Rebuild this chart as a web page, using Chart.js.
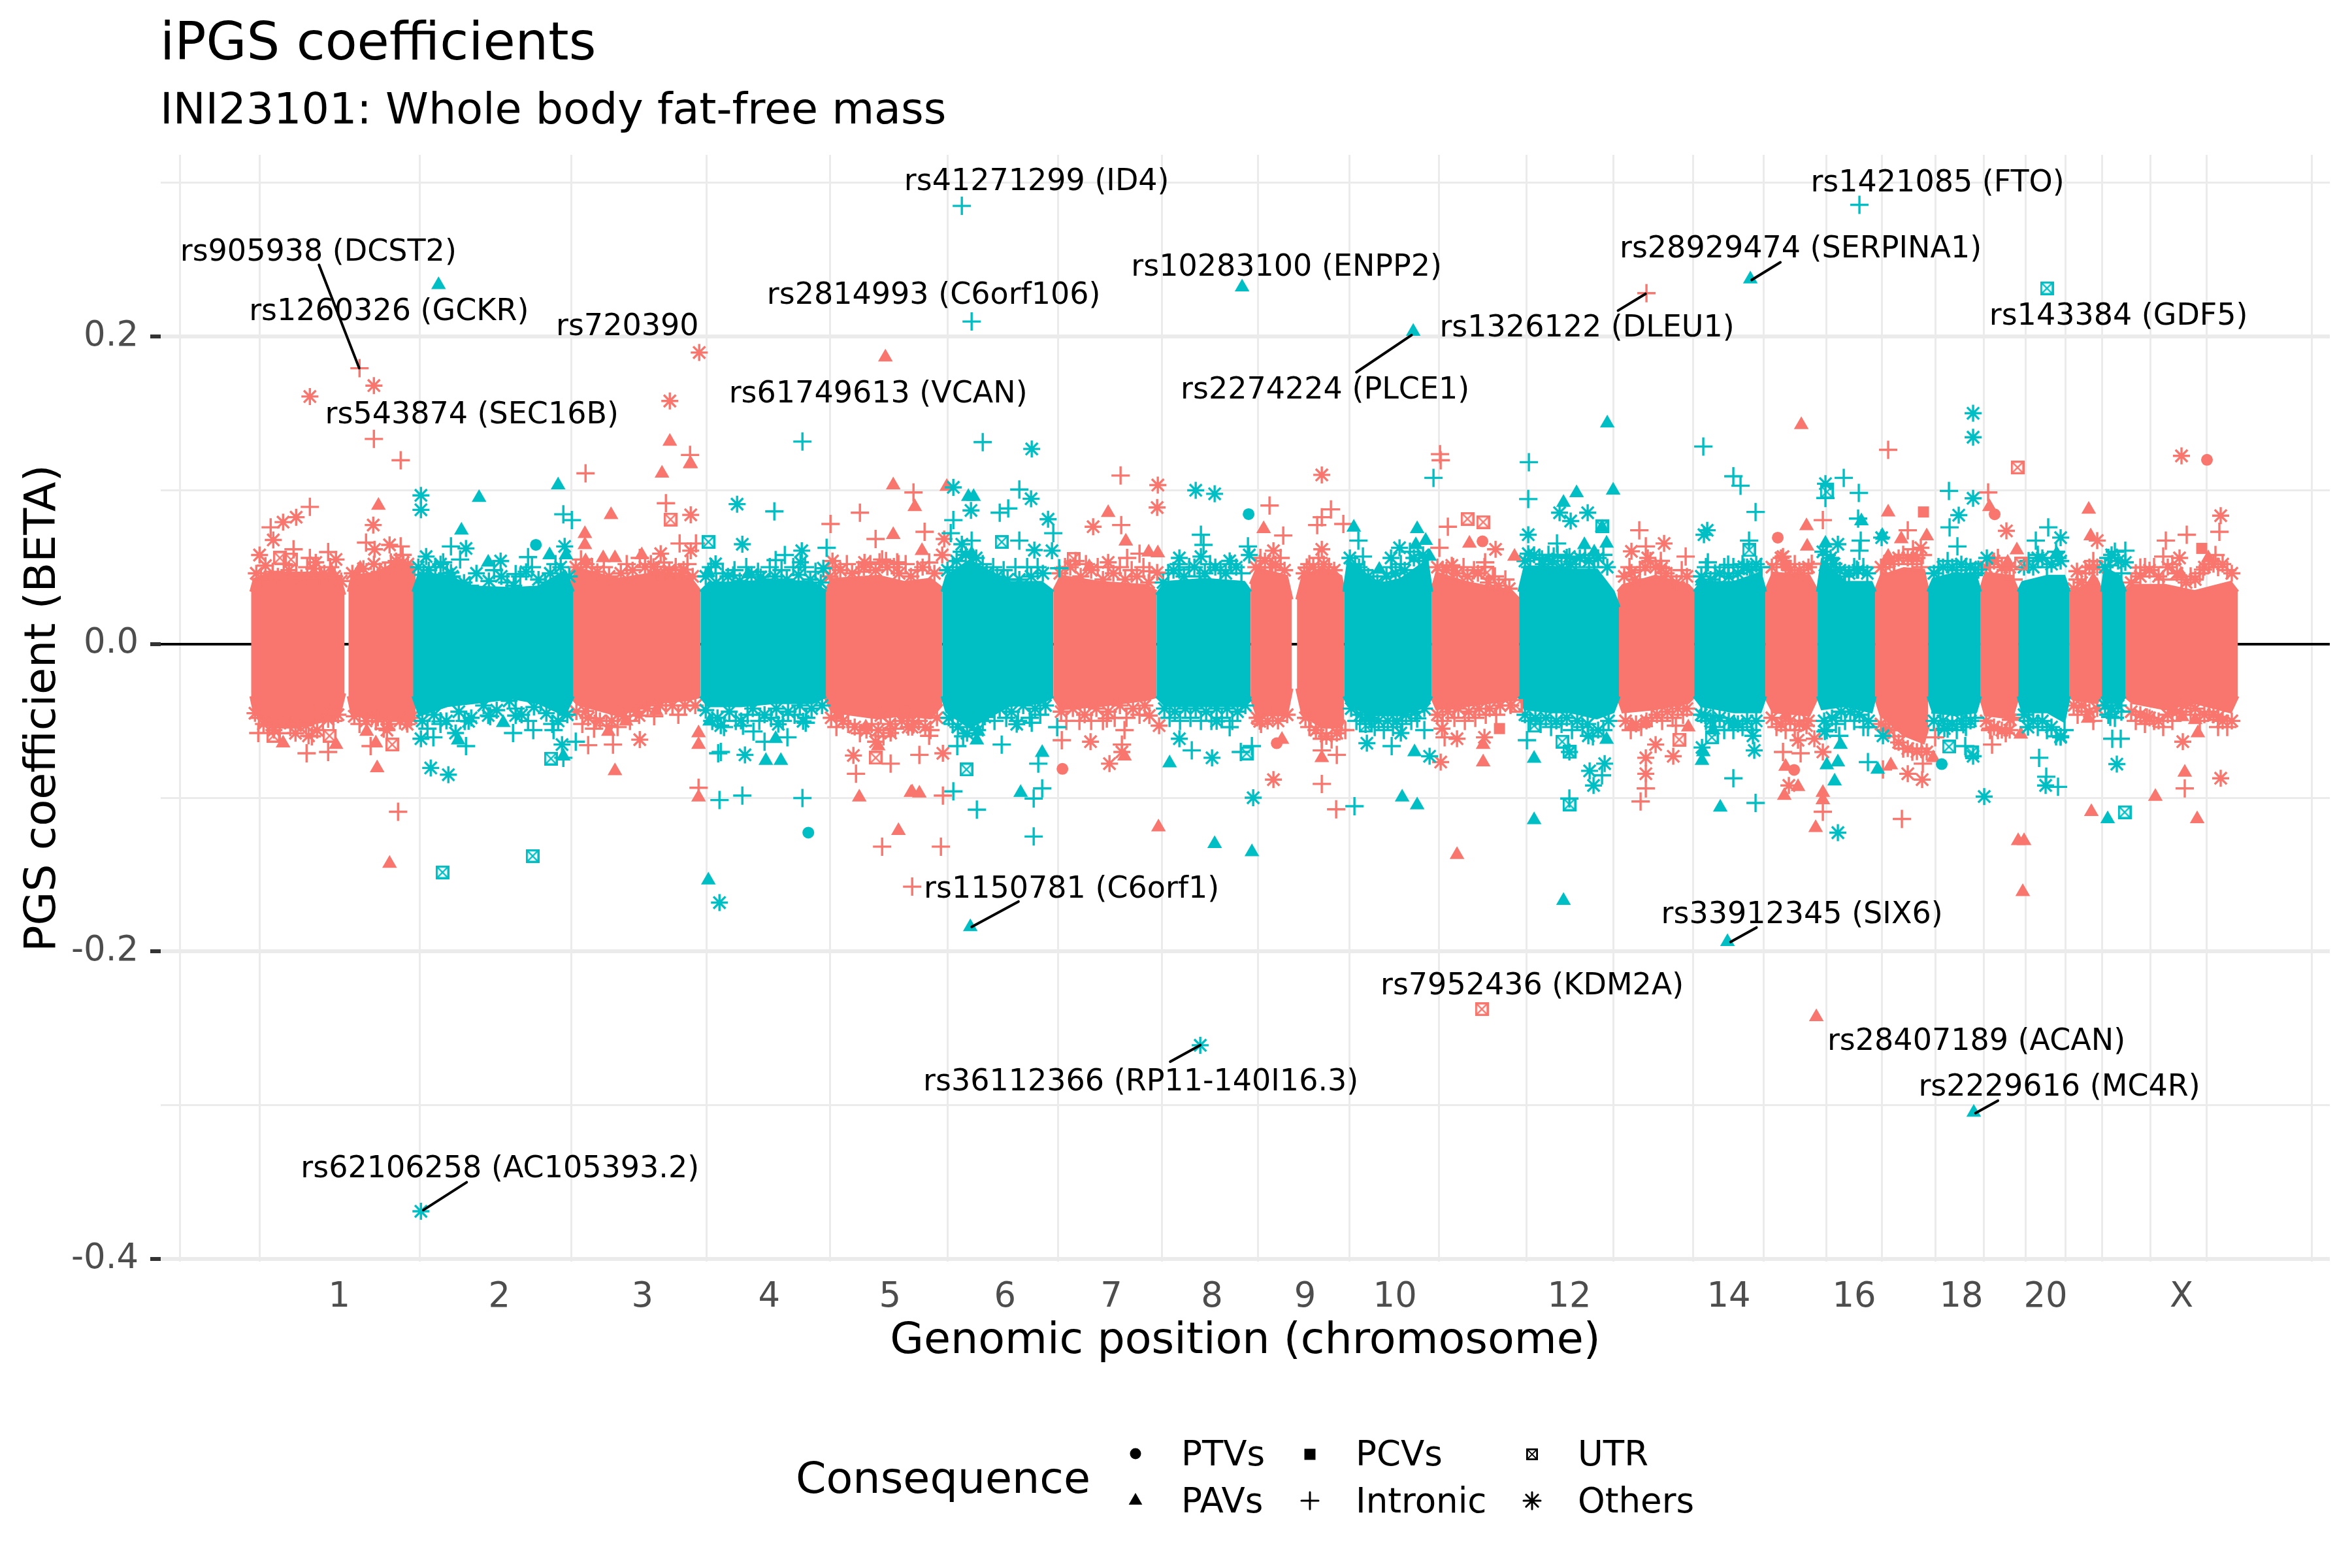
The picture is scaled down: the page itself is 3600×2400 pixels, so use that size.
<!DOCTYPE html>
<html><head><meta charset="utf-8">
<script src="https://cdn.jsdelivr.net/npm/chart.js@4"></script>
<style>html,body{margin:0;padding:0;background:#fff}canvas{display:block}</style>
</head><body><canvas id="c" width="3600" height="2400"></canvas>
<script>
// ---------- data (x = cumulative genomic position, y = BETA) ----------
const chromTicks=[135,380,599,793,978,1154,1317,1471,1613.5,1751,2018,2262,2454,2618,2747,2955];
const chromLabels=['1','2','3','4','5','6','7','8','9','10','12','14','16','18','20','X'];
const chromBounds=[-108.5,13,258,490.5,697,886,1066,1235,1394.5,1541.5,1681.5,1818,1952.5,2085.6,2207,2315,2411,2496.6,2578.5,2652.7,2716,2777.5,2833.4,2907.6,2993,3154.7];
const betaTicks=[0.3,0.2,0.1,0,-0.1,-0.2,-0.3,-0.4];
const betaLabelled=[0.2,0,-0.2,-0.4];

// dense body of each chromosome: position, upper and lower edge of the point cloud
const b01x=[0,5,30,70,110,135,143],b01h=[.034,.042,.046,.046,.046,.044,.032],b01l=[-.034,-.044,-.054,-.054,-.05,-.046,-.032];
const b02x=[149,155,190,230,252],b02h=[.034,.044,.046,.054,.049],b02l=[-.034,-.046,-.048,-.05,-.049];
const b03x=[248,258,300,340,400,440,480,493],b03h=[.034,.046,.044,.037,.036,.037,.047,.034],b03l=[-.034,-.046,-.04,-.038,-.035,-.038,-.046,-.034];
const b04x=[489,500,560,620,670,688],b04h=[.039,.049,.042,.046,.044,.034],b04l=[-.034,-.039,-.046,-.038,-.036,-.034];
const b05x=[688,700,750,800,860,880],b05h=[.034,.039,.04,.041,.04,.034],b05l=[-.034,-.04,-.04,-.038,-.038,-.034];
const b06x=[878,890,960,1000,1040,1058],b06h=[.034,.042,.044,.04,.042,.036],b06l=[-.034,-.044,-.048,-.046,-.048,-.039];
const b07x=[1058,1065,1100,1160,1210,1228],b07h=[.034,.044,.054,.04,.04,.034],b07l=[-.034,-.044,-.054,-.04,-.038,-.034];
const b08x=[1228,1240,1300,1370,1386],b08h=[.034,.044,.04,.038,.034],b08l=[-.034,-.042,-.04,-.036,-.034];
const b09x=[1386,1400,1460,1520,1530],b09h=[.032,.04,.042,.04,.034],b09l=[-.034,-.04,-.04,-.04,-.034];
const b10x=[1530,1540,1585,1593],b10h=[.039,.049,.044,.029],b10l=[-.034,-.046,-.046,-.029];
const b11x=[1601,1610,1640,1668,1673],b11h=[.029,.044,.049,.044,.034],b11l=[-.029,-.046,-.054,-.054,-.049];
const b12x=[1673,1680,1720,1760,1800,1807],b12h=[.034,.054,.038,.042,.054,.034],b12l=[-.034,-.04,-.046,-.046,-.04,-.034];
const b13x=[1807,1815,1860,1930,1941],b13h=[.034,.046,.04,.034,.029],b13l=[-.034,-.042,-.04,-.036,-.034];
const b14x=[1941,1950,1990,2020,2060,2085,2094],b14h=[.034,.05,.05,.048,.048,.034,.024],b14l=[-.034,-.042,-.044,-.044,-.048,-.044,-.034];
const b15x=[2092,2100,2150,2200,2209],b15h=[.034,.038,.044,.038,.034],b15l=[-.034,-.044,-.042,-.038,-.034];
const b16x=[2209,2220,2270,2310,2318],b16h=[.034,.04,.04,.046,.034],b16l=[-.034,-.04,-.044,-.044,-.034];
const b17x=[2318,2330,2385,2398],b17h=[.034,.046,.044,.034],b17l=[-.034,-.044,-.046,-.034];
const b18x=[2398,2405,2440,2480,2486],b18h=[.034,.054,.04,.04,.034],b18l=[-.034,-.042,-.04,-.044,-.034];
const b19x=[2486,2495,2530,2560,2567],b19h=[.034,.044,.049,.048,.034],b19l=[-.034,-.046,-.059,-.064,-.054];
const b20x=[2567,2575,2610,2640,2647],b20h=[.034,.042,.046,.044,.034],b20l=[-.034,-.044,-.046,-.044,-.034];
const b21x=[2647,2655,2695,2705],b21h=[.034,.046,.044,.034],b21l=[-.034,-.046,-.048,-.034];
const b22x=[2705,2712,2750,2775,2783],b22h=[.034,.04,.044,.044,.034],b22l=[-.034,-.044,-.044,-.05,-.034];
const b23x=[2783,2790,2825,2833],b23h=[.034,.034,.042,.034],b23l=[-.034,-.036,-.038,-.034];
const b24x=[2833,2838,2860,2869],b24h=[.034,.049,.044,.034],b24l=[-.034,-.038,-.038,-.034];
const b25x=[2869,2880,2930,2975,3030,3041],b25h=[.034,.038,.038,.034,.04,.034],b25l=[-.034,-.038,-.042,-.038,-.044,-.034];

// marks at the rim of the dense body, read per chromosome
const rimSalmonStar=[[8,.046],[22,.051],[41,.044],[58,.048],[77,.043],[96,.049],[112,.046],[128,.044],[138,.041],[6,-.045],[19,-.052],[35,-.056],[52,-.05],[68,-.058],[84,-.053],[101,-.056],[118,-.049],[133,-.046],
[155,.046],[172,.049],[188,.052],[205,.048],[222,.054],[240,.052],[158,-.047],[176,-.05],[194,-.048],[211,-.052],[228,-.05],[245,-.048],
[497,.05],[513,.052],[530,.047],[548,.044],[566,.046],[584,.048],[603,.05],[622,.047],[640,.048],[658,.046],[676,.044],[498,-.044],[516,-.048],[534,-.05],[552,-.05],[570,-.047],[589,-.044],[607,-.042],[626,-.04],[645,-.04],[664,-.04],[680,-.04],
[886,.044],[902,.048],[920,.046],[938,.05],[956,.048],[974,.05],[992,.046],[1010,.044],[1028,.05],[1046,.046],[888,-.048],[906,-.05],[924,-.054],[942,-.056],[960,-.056],[978,-.052],[996,-.05],[1014,-.052],[1032,-.054],[1050,-.048],
[1238,.046],[1254,.05],[1270,.044],[1286,.048],[1304,.042],[1320,.046],[1338,.042],[1356,.044],[1374,.04],[1240,-.044],[1258,-.042],[1276,-.046],[1294,-.042],[1312,-.044],[1330,-.04],[1350,-.042],[1368,-.04],
[1538,.05],[1552,.054],[1568,.052],[1582,.048],[1612,.046],[1626,.05],[1642,.052],[1658,.048],[1540,-.048],[1556,-.05],[1572,-.05],[1586,-.046],[1614,-.048],[1630,-.056],[1646,-.06],[1662,-.058],
[1816,.05],[1830,.048],[1846,.046],[1862,.044],[1878,.046],[1894,.04],[1910,.038],[1926,.036],[1816,-.046],[1832,-.044],[1848,-.042],[1864,-.044],[1880,-.042],[1896,-.042],[1912,-.04],[1928,-.04],
[2102,.044],[2118,.042],[2134,.05],[2150,.05],[2166,.046],[2182,.04],[2198,.044],[2104,-.05],[2120,-.052],[2136,-.05],[2152,-.046],[2168,-.044],[2184,-.042],[2198,-.042],
[2328,.05],[2342,.056],[2356,.048],[2370,.048],[2384,.05],[2328,-.048],[2342,-.052],[2356,-.05],[2370,-.052],[2384,-.05],
[2495,.05],[2508,.054],[2522,.056],[2536,.056],[2550,.056],[2495,-.052],[2508,-.056],[2522,-.064],[2536,-.068],[2550,-.07],
[2656,.05],[2668,.054],[2680,.05],[2692,.05],[2656,-.05],[2668,-.054],[2680,-.056],[2692,-.056],
[2790,.036],[2802,.04],[2814,.05],[2826,.05],[2790,-.04],[2802,-.04],[2814,-.044],[2826,-.042],
[2878,.04],[2892,.044],[2906,.048],[2920,.044],[2934,.05],[2948,.046],[2962,.04],[2976,.042],[2990,.05],[3004,.052],[3018,.052],[3032,.046],[2878,-.044],[2892,-.046],[2906,-.048],[2920,-.05],[2934,-.046],[2948,-.044],[2962,-.04],[2976,-.042],[2990,-.046],[3004,-.046],[3018,-.05],[3032,-.05]];
const rimSalmonCross=[[15,.042],[33,.047],[50,.052],[69,.045],[86,.05],[105,.043],[121,.05],[12,-.048],[28,-.053],[44,-.058],[60,-.054],[76,-.051],[93,-.06],[110,-.05],[126,-.05],
[164,.044],[197,.047],[214,.053],[232,.058],[166,-.052],[185,-.047],[203,-.055],[238,-.05],
[505,.055],[522,.05],[540,.05],[575,.052],[595,.056],[612,.052],[632,.053],[650,.05],[668,.052],[507,-.052],[525,-.055],[544,-.053],[561,-.054],[580,-.05],[617,-.047],[654,-.046],
[894,.05],[912,.052],[930,.047],[948,.052],[966,.055],[984,.05],[1002,.052],[1020,.048],[1038,.053],[896,-.054],[914,-.052],[932,-.058],[950,-.052],[968,-.06],[986,-.055],[1004,-.048],[1022,-.05],[1040,-.056],
[1246,.05],[1262,.054],[1278,.052],[1296,.05],[1312,.05],[1330,.05],[1348,.048],[1366,.05],[1248,-.05],[1268,-.05],[1286,-.05],[1304,-.05],[1322,-.048],[1340,-.048],[1360,-.046],
[1545,.056],[1560,.05],[1576,.056],[1620,.052],[1634,.056],[1650,.05],[1546,-.052],[1564,-.046],[1620,-.054],[1638,-.058],[1654,-.062],[1668,-.056],
[1824,.048],[1840,.05],[1856,.05],[1872,.048],[1888,.05],[1904,.044],[1920,.042],[1824,-.05],[1842,-.048],[1858,-.05],[1874,-.048],[1890,-.046],[1906,-.046],
[2110,.05],[2126,.048],[2142,.054],[2158,.05],[2174,.044],[2190,.048],[2112,-.056],[2128,-.054],[2144,-.048],[2160,-.05],[2176,-.048],[2192,-.046],
[2335,.052],[2349,.05],[2363,.052],[2377,.046],[2335,-.054],[2349,-.056],[2363,-.056],[2377,-.05],
[2502,.05],[2515,.052],[2529,.058],[2543,.052],[2557,.05],[2502,-.056],[2515,-.06],[2529,-.068],[2543,-.07],[2557,-.068],
[2662,.05],[2674,.056],[2686,.048],[2698,.042],[2662,-.056],[2674,-.056],[2686,-.058],[2698,-.048],
[2796,.042],[2808,.046],[2820,.054],[2796,-.046],[2808,-.044],[2820,-.05],
[2885,.046],[2899,.05],[2913,.05],[2927,.042],[2941,.052],[2955,.042],[2969,.044],[2983,.046],[2997,.052],[3011,.05],[3025,.048],[2885,-.05],[2899,-.052],[2913,-.05],[2927,-.054],[2941,-.05],[2955,-.044],[2969,-.046],[2983,-.05],[2997,-.044],[3011,-.054],[3025,-.054]];
const rimTealStar=[[256,.05],[272,.048],[290,.052],[308,.044],[326,.04],[345,.046],[364,.041],[383,.044],[402,.038],[421,.047],[440,.042],[458,.046],[474,.05],[487,.044],[262,-.05],[280,-.046],[299,-.05],[318,-.044],[337,-.048],[356,-.04],[376,-.043],[395,-.037],[414,-.046],[433,-.041],[452,-.045],[470,-.05],[484,-.046],
[696,.044],[712,.04],[730,.044],[748,.041],[766,.045],[784,.042],[802,.044],[820,.042],[838,.045],[856,.042],[872,.04],[696,-.043],[714,-.048],[732,-.044],[750,-.05],[768,-.042],[786,-.046],[804,-.042],[822,-.044],[840,-.04],[858,-.042],[874,-.04],
[1066,.048],[1080,.054],[1094,.058],[1110,.056],[1126,.046],[1142,.044],[1158,.042],[1176,.042],[1194,.044],[1212,.046],[1068,-.048],[1082,-.054],[1096,-.058],[1112,-.056],[1128,-.044],[1146,-.042],[1164,-.044],[1182,-.04],[1200,-.042],[1216,-.04],
[1396,.04],[1412,.048],[1428,.044],[1444,.05],[1460,.046],[1476,.05],[1492,.046],[1508,.05],[1398,-.042],[1414,-.044],[1430,-.042],[1446,-.042],[1462,-.044],[1478,-.042],[1494,-.042],[1510,-.044],[1522,-.04],
[1682,.056],[1696,.05],[1710,.044],[1724,.04],[1738,.044],[1752,.046],[1766,.048],[1780,.056],[1794,.058],[1684,-.042],[1698,-.046],[1712,-.048],[1726,-.05],[1740,-.05],[1754,-.05],[1768,-.046],[1782,-.044],[1796,-.042],
[1950,.054],[1964,.058],[1978,.052],[1992,.054],[2006,.05],[2020,.052],[2034,.056],[2048,.054],[2062,.056],[2076,.05],[1950,-.046],[1966,-.048],[1982,-.048],[1998,-.05],[2014,-.048],[2030,-.05],[2046,-.052],[2062,-.056],[2078,-.05],
[2220,.044],[2234,.042],[2248,.046],[2262,.044],[2276,.046],[2290,.05],[2304,.052],[2220,-.046],[2234,-.05],[2248,-.048],[2262,-.05],[2276,-.052],[2290,-.05],[2304,-.05],
[2406,.06],[2418,.056],[2432,.048],[2446,.046],[2460,.048],[2474,.046],[2408,-.05],[2420,-.048],[2434,-.044],[2448,-.044],[2462,-.046],[2476,-.05],
[2576,.046],[2590,.05],[2604,.05],[2618,.052],[2632,.05],[2576,-.05],[2590,-.05],[2604,-.052],[2618,-.05],[2632,-.05],
[2714,.05],[2728,.05],[2742,.056],[2756,.052],[2770,.054],[2714,-.046],[2728,-.05],[2742,-.05],[2756,-.054],[2770,-.06],
[2838,.05],[2848,.058],[2858,.054],[2838,-.04],[2848,-.042],[2858,-.04]];
const rimTealCross=[[264,.045],[282,.05],[300,.046],[335,.038],[372,.048],[392,.04],[412,.044],[430,.05],[450,.04],[466,.052],[270,-.055],[290,-.052],[327,-.05],[366,-.047],[405,-.042],[424,-.05],[443,-.038],[461,-.052],
[704,.05],[722,.046],[740,.048],[758,.05],[776,.047],[794,.05],[812,.048],[830,.05],[848,.05],[864,.047],[706,-.05],[724,-.054],[742,-.05],[760,-.046],[778,-.05],[796,-.048],[814,-.05],[832,-.046],[850,-.048],
[1074,.05],[1088,.06],[1104,.05],[1120,.052],[1136,.05],[1152,.048],[1170,.05],[1188,.05],[1204,.05],[1074,-.052],[1090,-.06],[1106,-.05],[1120,-.05],[1138,-.05],[1156,-.048],[1174,-.05],[1192,-.048],[1208,-.046],
[1404,.046],[1420,.052],[1436,.05],[1452,.044],[1468,.052],[1484,.048],[1500,.052],[1516,.046],[1406,-.048],[1422,-.05],[1438,-.048],[1454,-.05],[1470,-.05],[1486,-.048],[1502,-.05],
[1690,.052],[1704,.048],[1718,.04],[1746,.05],[1760,.052],[1774,.06],[1788,.054],[1692,-.05],[1706,-.052],[1720,-.054],[1734,-.056],[1748,-.054],[1762,-.052],[1776,-.05],
[1958,.05],[1972,.056],[1986,.058],[2000,.058],[2014,.056],[2028,.05],[2042,.058],[2056,.05],[2070,.058],[1958,-.05],[1974,-.052],[1990,-.054],[2006,-.052],[2022,-.056],[2038,-.054],[2054,-.06],[2070,-.056],
[2227,.05],[2241,.046],[2255,.05],[2269,.05],[2283,.052],[2297,.048],[2311,.05],[2227,-.05],[2241,-.054],[2255,-.056],[2269,-.056],[2283,-.054],[2297,-.056],
[2412,.058],[2426,.05],[2440,.044],[2454,.05],[2468,.05],[2412,-.056],[2426,-.052],[2440,-.05],[2454,-.05],[2468,-.054],
[2583,.05],[2597,.054],[2611,.048],[2625,.05],[2639,.046],[2583,-.056],[2597,-.055],[2611,-.056],[2625,-.054],[2639,-.048],
[2721,.054],[2735,.058],[2749,.05],[2763,.06],[2721,-.05],[2735,-.054],[2749,-.056],[2763,-.06],[2776,-.056],
[2843,.056],[2853,.06],[2863,.046],[2843,-.046],[2853,-.048],[2863,-.044]];

const salmonPTV=[[1001,-.0436],[1242,-.0812],[1570,-.0645],[1885,.0668],[2337,.0692],[2362,-.0819],[2669,.0844],[2994,.1198]];
const salmonPAV=[[195,.0901],[629,.111],[673,.1172],[551,.084],[511,.0717],[511,.0645],[598,.0579],[539,.056],[557,.056],[167,.0493],[124,.0465],[983,.1034],[983,.0711],[1016,.0892],[512,.054],[641,.1317],[672,.1172],[971,.1866],
[49,-.0645],[130,-.0654],[177,-.0569],[191,-.0645],[193,-.0806],[212,-.1428],[574,-.0503],[547,-.0569],[557,-.0825],[685,-.0654],[685,-.0579],[685,-.0996],[931,-.0996],[991,-.1214],[1010,-.0967],[620,-.0436],[899,-.0465],[941,-.0541],[960,-.0664],
[1065,.1024],[1312,.0854],[1339,.0668],[1027,.0607],[1374,.0597],[1388,.0592],[1550,.0749],[1865,.0654],[1934,.0569],[1283,.0503],
[1012,-.0964],[1023,-.0971],[1389,-.1191],[1337,-.073],[1639,-.074],[1578,-.0622],[1846,-.1371],[1886,-.0768],[1886,-.0654],
[2506,.0857],[2381,.0768],[2382,.0635],[2526,.0683],[2565,.0702],[2544,.056],[2506,.0569],[2661,.0892],[2813,.0876],[2816,.0702],[2703,.0611],[2667,.0541],[2689,.0531],[2996,.056],[2954,.0455],[2820,.0417],[2373,.1426],
[2114,-.0531],[2135,-.0512],[2200,-.0541],[2349,-.0465],[2349,-.0797],[2368,-.0929],[2347,-.0986],[2406,-.0967],[2406,-.1015],[2395,-.1195],[2510,-.0787],[2575,-.074],[2705,-.128],[2714,-.128],[2712,-.1612],[2915,-.0992],[2817,-.1091],[2979,-.1138],[2960,-.0835],[2812,-.0484],[2980,-.0579],[2956,-.0474],[2976,-.0493],[2942,-.0427],[2709,-.0588],[2396,-.2425]];
const salmonPCV=[[1911,-.055],[2350,.0512],[2560,.0859],[2986,.0622]];
const salmonUTR=[[642,.081],[44,.056],[61,.055],[641,.0455],[1259,.0554],[1862,.0814],[1886,.0793],[1892,.0465],[2704,.1148],[2709,.0522],[2506,.0493],[34,-.0597],[120,-.0597],[216,-.0654],[956,-.074],[1936,-.0402],[2186,-.0622],[1884,-.2375]];
const salmonIntronic=[[229,.1195],[188,.1334],[166,.1794],[672,.123],[90,.0892],[512,.111],[635,.0916],[656,.0654],[681,.0654],[887,.0781],[932,.0854],[956,.0683],[1014,.0986],[30,.0759],[65,.0616],[118,.0598],[176,.066],[229,.0635],[90,.056],[972,.054],[991,.052],
[85,-.0711],[118,-.0702],[11,-.0579],[183,-.0664],[225,-.1091],[516,-.0658],[554,-.0654],[528,-.0484],[635,-.0398],[685,-.0935],[926,-.0844],[966,-.1318],[979,-.0778],[1012,-.1578],[95,-.0446],[72,-.0503],[191,-.0503],
[1031,.073],[1331,.1096],[1332,.0774],[1559,.0901],[1580,.0706],[1653,.0876],[1639,.0825],[1632,.0774],[1672,.0781],[1832,.0763],[1821,.1195],[1820,.1235],[1341,.056],[1360,.0588],[1563,.0497],[1616,.0497],[1819,.0626],[1889,.0531],[1375,.0474],[962,.0531],[989,.0531],
[1056,-.1318],[1059,-.0986],[1023,-.0721],[1038,-.0597],[1310,-.0484],[1337,-.056],[1333,-.0654],[1241,-.0626],[1639,-.091],[1639,-.0692],[1639,-.0616],[1662,-.0721],[1661,-.1075],[1675,-.056],[1620,-.0484],[1827,-.0607],
[2136,.2282],[2506,.1263],[2125,.074],[2135,.0635],[2196,.0569],[2158,.0541],[2406,.0806],[2389,.0522],[2536,.074],[2659,.0986],[2544,.0616],[2559,.0579],[2931,.0673],[2927,.0569],[2963,.0711],[3013,.073],[3007,.0579],[2892,.0497],[2988,.0484],
[2127,-.1024],[2135,-.0939],[2345,-.0702],[2372,-.0711],[2406,-.1091],[2527,-.1138],[2498,-.0816],[2559,-.0778],[2578,-.0607],[2665,-.0654],[2181,-.0531],[2960,-.0939],[3011,-.0493],[2663,-.055],[2506,-.056]];
const salmonOthers=[[90,.161],[188,.1681],[686,.1896],[641,.1581],[69,.0825],[49,.0793],[34,.0677],[13,.0579],[99,.0531],[130,.055],[187,.0774],[189,.0616],[212,.0645],[233,.0531],[673,.084],[673,.0607],[627,.0588],[616,.0503],[939,.0531],[890,.054],[662,.0484],
[88,-.0597],[122,-.0446],[595,-.0622],[208,-.056],[239,-.0522],[922,-.0725],[956,-.0635],[979,-.0579],[1006,-.0541],[964,-.0465],[594,-.0465],[562,-.0455],[512,-.0436],
[1388,.1034],[1387,.0888],[1289,.0763],[1312,.0531],[1565,.0607],[1639,.11],[1639,.0616],[1905,.0616],[1061,.0683],[1058,.0579],[1387,.0465],[1838,.0512],
[1059,-.0711],[1012,-.0541],[1314,-.0778],[1285,-.0635],[1390,-.0531],[1375,-.0465],[1565,-.0882],[1544,-.0503],[1821,-.0768],[1846,-.0616],[1823,-.055],[1888,-.0607],[1333,-.0702],
[2163,.0654],[2113,.0603],[2138,.056],[2113,.0465],[2159,.0493],[2687,.0736],[2826,.0673],[2795,.0474],[2952,.056],[3015,.0835],[2955,.1224],[2556,.0626],[2345,.0569],
[2135,-.074],[2135,-.0844],[2177,-.073],[2150,-.0654],[2354,-.092],[2381,-.0531],[2368,-.0626],[2406,-.0702],[2393,-.0616],[2536,-.0844],[2558,-.0882],[2565,-.0702],[2957,-.0635],[3015,-.0873],[3011,-.0474],[2902,-.0474],[2693,-.0493]];

const tealPTV=[[436,.0645],[853,-.1227],[1527,.0845],[1712,-.0474],[2588,-.0781]];
const tealPAV=[[287,.2336],[470,.1034],[349,.0952],[322,.074],[700,.0465],[457,.0579],[482,.0579],[363,.0531],[761,.0455],
[700,-.1536],[788,-.0759],[811,-.0759],[702,-.0503],[803,-.0616],[478,-.073],[386,-.0512],[317,-.0626],
[1517,.2321],[1779,.2032],[1098,.0958],[1106,.0958],[2029,.0983],[2085,.1],[2009,.092],[1688,.0759],[1785,.0749],[1783,.0645],[1798,.0673],[2041,.0645],[2068,.0759],[2075,.0654],[2056,.0597],[1103,.0588],[1804,.0569],[1727,.0484],
[1211,-.0706],[1113,-.0569],[1111,-.0626],[1406,-.0774],[1475,-.1299],[1532,-.1352],[1178,-.0967],[1762,-.0996],[1785,-.1047],[1781,-.0702],[1964,-.0745],[1964,-.1144],[2009,-.1669],[2075,-.0622],
[2295,.2373],[2076,.1436],[2465,.08],[2410,.0654],[2497,.0706],[2764,.0588],[2410,.0503],[2221,.0408],
[2249,-.1062],[2221,-.0759],[2223,-.0702],[2271,-.0522],[2238,-.056],[2412,-.0787],[2429,-.0768],[2424,-.0892],[2433,-.0654],[2490,-.0816],[2842,-.1138],
[1101,-.184],[2260,-.1937],[2637,-.3047]];
const tealUTR=[[700,.0664],[293,-.1485],[431,-.1379],[459,-.0745],[1149,.0664],[2068,.0764],[1095,-.0816],[2007,-.0635],[2018,-.0702],[2018,-.1043],[1524,-.0711],[1706,-.0531],[1964,-.0531],[2412,.099],[2293,.0611],[2303,.0446],[2640,.0484],[2868,-.1094],[2599,-.0668],[2634,-.0706],[2236,-.0607],[2749,.2314]];
const tealIntronic=[[478,.0844],[491,.0806],[801,.0863],[306,.0635],[881,.0626],[817,.0579],[803,.0546],[320,.055],[294,.0531],[405,.0455],[424,.0565],[738,.0446],
[329,-.0664],[279,-.0607],[401,-.0579],[463,-.056],[432,-.056],[497,-.0635],[715,-.0711],[719,-.0702],[769,-.0569],[786,-.0635],[821,-.0607],[753,-.0531],[717,-.1015],[752,-.0986],[844,-.1002],[478,-.074],[290,-.0503],[849,-.0512],
[1088,.285],[1103,.2098],[844,.1317],[1120,.1313],[1956,.1183],[1176,.1005],[1075,.0806],[1071,.0721],[1146,.0854],[1159,.0882],[1103,.0673],[1176,.0673],[1228,.0721],[1237,.0493],[1454,.0711],[1458,.0645],[1526,.0635],[1810,.1081],[1955,.0943],[1695,.0673],[1702,.0569],[1999,.0654],[1976,.055],[1994,.0569],[1421,.0484],
[1081,-.0664],[1149,-.0654],[1075,-.0958],[1111,-.1077],[1198,-.1005],[1211,-.0939],[1205,-.0778],[1198,-.1252],[1440,-.0692],[1515,-.0702],[1532,-.0664],[1689,-.1055],[1746,-.0664],[1796,-.056],[1953,-.0626],[2068,-.0854],[2018,-.1005],[1498,-.0541],[1785,-.0484],[1234,-.0541],[1195,-.0512],
[2462,.2857],[2223,.1285],[2269,.1091],[2280,.103],[2438,.1081],[2461,.0983],[2410,.095],[2303,.0859],[2599,.0996],[2600,.0759],[2612,.0635],[2464,.0673],[2462,.0607],[2293,.0673],[2230,.0531],[2261,.0516],[2732,.0673],[2751,.0759],[2869,.0607],[2846,.0512],[2458,.0484],[2460,.0816],[2644,.0484],
[2269,-.0873],[2303,-.1034],[2475,-.0768],[2431,-.0597],[2624,-.0664],[2737,-.074],[2748,-.0863],[2766,-.0929],[2862,-.0616],[2849,-.0616],[2846,-.0474],[2586,-.0446],[2621,-.0522],[2238,-.0465],[2475,-.0541]];
const tealOthers=[[260,.0967],[260,.0873],[744,.091],[752,.0649],[329,.0622],[268,.0569],[480,.0635],[382,.054],[306,.0465],[843,.0607],[841,.0531],[711,.0522],[876,.0493],[780,.0436],
[275,-.0806],[302,-.085],[260,-.0616],[476,-.0654],[717,-.1682],[756,-.0721],[719,-.0531],[333,-.0503],[363,-.0465],[405,-.0465],[845,-.0503],[807,-.0522],[313,-.0579],[260,-.369],
[1195,.1269],[1075,.1019],[1102,.0869],[1194,.0945],[1220,.0812],[1446,.1],[1475,.0977],[1088,.0649],[1199,.0611],[1226,.0607],[1421,.056],[1454,.0569],[1498,.0541],[1528,.0579],[1758,.0626],[1745,.056],[1955,.0711],[1955,.0588],[2003,.0854],[2020,.08],[2046,.0854],[2018,.0569],
[1534,-.1],[1471,-.074],[1421,-.0616],[1172,-.0522],[1708,-.0645],[1760,-.0579],[1804,-.073],[2047,-.0597],[2072,-.0778],[2049,-.0825],[2055,-.092],[2018,-.0702],[1478,-.0503],[1123,-.0474],[1453,-.261],
[2636,.1501],[2636,.1345],[2410,.1043],[2636,.0948],[2614,.0838],[2229,.074],[2224,.0711],[2429,.0649],[2496,.0692],[2770,.0692],[2423,.0522],[2285,.0503],[2735,.056],[2766,.056],[2869,.0531],[2657,.056],
[2429,-.1227],[2653,-.0992],[2856,-.0781],[2747,-.092],[2636,-.073],[2592,-.055],[2498,-.0597],[2301,-.0692],[2299,-.0597],[2221,-.0673],[2770,-.0607],[2720,-.0541],[2409,-.0569],[2226,-.0465]];

const snpText=['rs905938 (DCST2)','rs1260326 (GCKR)','rs720390','rs543874 (SEC16B)','rs41271299 (ID4)','rs2814993 (C6orf106)','rs61749613 (VCAN)','rs10283100 (ENPP2)','rs2274224 (PLCE1)','rs1326122 (DLEU1)','rs28929474 (SERPINA1)','rs1421085 (FTO)','rs143384 (GDF5)','rs1150781 (C6orf1)','rs33912345 (SIX6)','rs7952436 (KDM2A)','rs28407189 (ACAN)','rs2229616 (MC4R)','rs36112366 (RP11-140I16.3)','rs62106258 (AC105393.2)'];
const snpTextX=[103,211,576,338,1202.5,1045,960,1585,1644,2045,2372,2581.5,2858.6,1256,2374,1961,2641,2768,1362,381];
const snpTextY=[.2562,.2175,.2078,.1502,.3019,.2282,.1638,.2462,.1666,.2069,.2581,.3013,.2146,-.1583,-.1746,-.2212,-.2571,-.2868,-.2834,-.3403];
const leaderFrom=[[104,.2466],[1692,.1768],[2092.5,.2169],[2341,.2483],[330,-.3501],[2304.5,-.1844],[2674,-.297],[1174.7,-.1675],[1407,-.2717]];
const leaderTo=[[165.5,.1795],[1776.5,.201],[2134.6,.2278],[2297,.2368],[263.7,-.3682],[2264.7,-.1938],[2639.7,-.3051],[1103,-.184],[1453,-.2609]];

const legendNames=['PTVs','PAVs','PCVs','Intronic','UTR','Others'];

// ---------- styles ----------
const SALMON='#F8766D',TEAL='#00BFC4',FONT='"DejaVu Sans"';
function utrSprite(color,size,lw){
  const c=document.createElement('canvas');c.width=c.height=size;const g=c.getContext('2d');
  g.strokeStyle=color;g.lineWidth=lw;const m=lw/2;
  g.strokeRect(m,m,size-lw,size-lw);
  g.lineWidth=lw*0.7;g.beginPath();g.moveTo(m,m);g.lineTo(size-m,size-m);g.moveTo(size-m,m);g.lineTo(m,size-m);g.stroke();
  return c;
}
function pts(a){return a.map(p=>({x:p[0],y:p[1]}));}
function zip(xs,ys){return xs.map((x,i)=>({x:x,y:ys[i]}));}
function markers(a,color,style,r,bw,order){
  return {data:pts(a),showLine:false,pointStyle:style,pointRadius:r,pointHoverRadius:r,pointBackgroundColor:color,pointBorderColor:color,pointBorderWidth:bw,order:order};
}
const bands=[[b01x,b01h,b01l],[b02x,b02h,b02l],[b03x,b03h,b03l],[b04x,b04h,b04l],[b05x,b05h,b05l],[b06x,b06h,b06l],[b07x,b07h,b07l],[b08x,b08h,b08l],[b09x,b09h,b09l],[b10x,b10h,b10l],[b11x,b11h,b11l],[b12x,b12h,b12l],[b13x,b13h,b13l],[b14x,b14h,b14l],[b15x,b15h,b15l],[b16x,b16h,b16l],[b17x,b17h,b17l],[b18x,b18h,b18l],[b19x,b19h,b19l],[b20x,b20h,b20l],[b21x,b21h,b21l],[b22x,b22h,b22l],[b23x,b23h,b23l],[b24x,b24h,b24l],[b25x,b25h,b25l]];
const bandColor=[SALMON,SALMON,TEAL,SALMON,TEAL,SALMON,TEAL,SALMON,TEAL,SALMON,SALMON,TEAL,SALMON,TEAL,SALMON,TEAL,SALMON,TEAL,SALMON,TEAL,SALMON,TEAL,SALMON,TEAL,SALMON];
const datasets=[];
bands.forEach((b,i)=>{
  const col=bandColor[i],ord=col===TEAL?20:30;
  datasets.push({data:zip(b[0],b[1]),showLine:true,tension:0,pointRadius:0,borderColor:col,borderWidth:5,backgroundColor:col,fill:'+1',order:ord});
  datasets.push({data:zip(b[0],b[2]),showLine:true,tension:0,pointRadius:0,borderColor:col,borderWidth:5,backgroundColor:col,fill:false,order:ord});
});
const utrS=utrSprite(SALMON,21,3.4),utrT=utrSprite(TEAL,21,3.4);
datasets.push(markers(rimSalmonStar,SALMON,'star',13,3.4,28),markers(rimSalmonCross,SALMON,'cross',14,3.4,28));
datasets.push(markers(rimTealStar,TEAL,'star',13,3.4,18),markers(rimTealCross,TEAL,'cross',14,3.4,18));
datasets.push(markers(salmonIntronic,SALMON,'cross',14,3.4,10),markers(salmonOthers,SALMON,'star',13,3.4,10),markers(salmonPAV,SALMON,'triangle',13,0,10),markers(salmonPTV,SALMON,'circle',9,0,10),markers(salmonPCV,SALMON,'rect',12,0,10),markers(salmonUTR,SALMON,utrS,11,0,10));
datasets.push(markers(tealIntronic,TEAL,'cross',14,3.4,5),markers(tealOthers,TEAL,'star',13,3.4,5),markers(tealPAV,TEAL,'triangle',13,0,5),markers(tealPTV,TEAL,'circle',9,0,5),markers(tealUTR,TEAL,utrT,11,0,5));

const overlay={id:'overlay',afterDraw(ch){
  const g=ch.ctx,X=ch.scales.x,Y=ch.scales.y;
  g.save();
  g.strokeStyle='#000';g.lineWidth=4;g.lineCap='round';
  leaderFrom.forEach((p,i)=>{const q=leaderTo[i];g.beginPath();g.moveTo(X.getPixelForValue(p[0]),Y.getPixelForValue(p[1]));g.lineTo(X.getPixelForValue(q[0]),Y.getPixelForValue(q[1]));g.stroke();});
  g.fillStyle='#000';g.font='46px '+FONT;g.textAlign='center';g.textBaseline='middle';
  snpText.forEach((t,i)=>g.fillText(t,X.getPixelForValue(snpTextX[i]),Y.getPixelForValue(snpTextY[i])+4));
  g.textAlign='left';g.textBaseline='alphabetic';
  g.font='80px '+FONT;g.fillText('iPGS coefficients',245,91);
  g.font='66.7px '+FONT;g.fillText('INI23101: Whole body fat-free mass',245,189);
  g.font='66.7px '+FONT;g.fillText('Consequence',1218,2285);
  g.font='53px '+FONT;
  const tx=[1808,1808,2075,2075,2415,2415],by=[2243,2315,2243,2315,2243,2315];
  legendNames.forEach((t,i)=>g.fillText(t,tx[i],by[i]));
  g.fillStyle='#000';g.strokeStyle='#000';g.lineWidth=3;
  const D=Chart.helpers.drawPoint;
  D(g,{pointStyle:'circle',radius:8.5,rotation:0,borderWidth:0},1738,2225);
  D(g,{pointStyle:'triangle',radius:12,rotation:0,borderWidth:0},1738,2297);
  D(g,{pointStyle:'rect',radius:12,rotation:0,borderWidth:0},2005,2226);
  D(g,{pointStyle:'cross',radius:13,rotation:0,borderWidth:3},2005,2297);
  g.drawImage(utrSprite('#000',18,2.8),2336,2217);
  D(g,{pointStyle:'star',radius:13,rotation:0,borderWidth:3},2345,2297);
  g.restore();
}};

Chart.defaults.font.family=FONT;
new Chart(document.getElementById('c'),{
  type:'scatter',
  data:{datasets:datasets},
  plugins:[overlay],
  options:{
    responsive:false,animation:false,devicePixelRatio:1,
    events:[],
    layout:{padding:{left:0,top:237,right:34,bottom:300}},
    plugins:{legend:{display:false},tooltip:{enabled:false},title:{display:false},filler:{propagate:false}},
    scales:{
      x:{type:'linear',min:-138.3,max:3182,position:'bottom',
        afterFit(s){s.height=169;},
        afterBuildTicks(s){s.ticks=chromTicks.map(v=>({value:v}));},
        grid:{display:false,drawTicks:false},border:{display:false},
        ticks:{autoSkip:false,maxRotation:0,minRotation:0,padding:24,color:'#4D4D4D',font:{size:52.8},callback:(v,i)=>chromLabels[i]},
        title:{display:true,text:'Genomic position (chromosome)',color:'#000',font:{size:66.7},padding:{top:0,bottom:6}}
      },
      x2:{type:'linear',min:-138.3,max:3182,position:'bottom',
        afterFit(s){s.height=0;},
        afterBuildTicks(s){s.ticks=chromBounds.map(v=>({value:v}));},
        grid:{color:'#EBEBEB',lineWidth:3,drawTicks:false},border:{display:false},
        ticks:{display:false}
      },
      y:{type:'linear',min:-0.4017,max:0.3182,position:'left',
        afterFit(s){s.width=246;},
        afterBuildTicks(s){s.ticks=betaTicks.map(v=>({value:v}));},
        grid:{
          color:c=>c.tick&&c.tick.value===0?'#000':'#EBEBEB',
          lineWidth:c=>{if(!c.tick)return 3;if(c.tick.value===0)return 4;return betaLabelled.includes(c.tick.value)?6:3;},
          tickColor:c=>c.tick&&betaLabelled.includes(c.tick.value)?'#333333':'rgba(0,0,0,0)',
          tickWidth:6,tickLength:16
        },
        border:{display:false},
        ticks:{autoSkip:false,padding:18,color:'#4D4D4D',font:{size:52.8},callback:v=>betaLabelled.includes(v)?v.toFixed(1):''},
        title:{display:true,text:'PGS coefficient (BETA)',color:'#000',font:{size:66.7},padding:{top:27,bottom:27}}
      }
    }
  }
});
</script></body></html>
